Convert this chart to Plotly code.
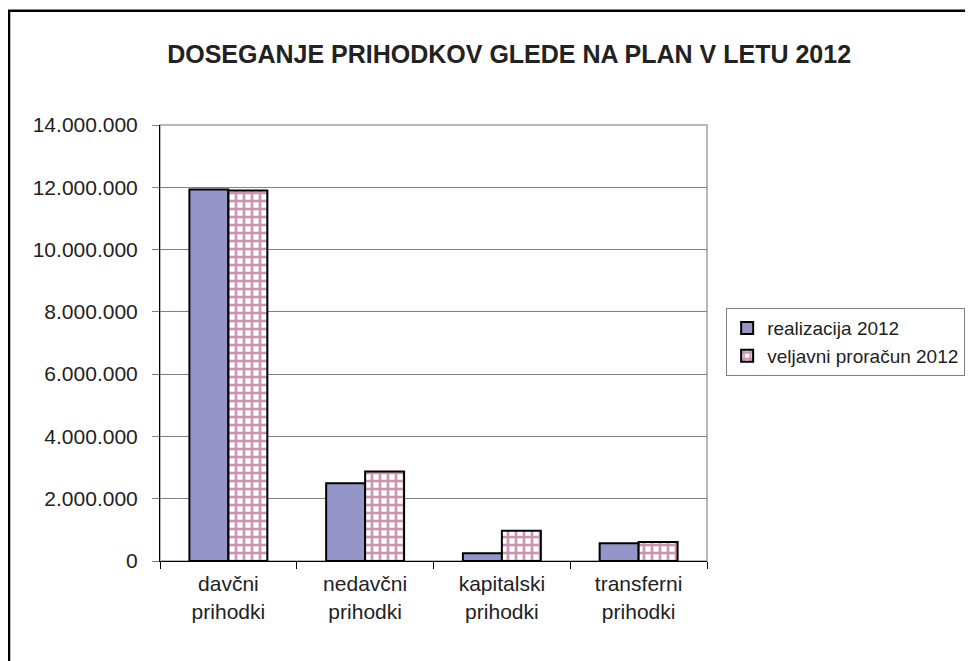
import plotly.graph_objects as go

categories = ["davčni<br>prihodki", "nedavčni<br>prihodki", "kapitalski<br>prihodki", "transferni<br>prihodki"]
realizacija_2012 = [11930000, 2500000, 250000, 570000]
veljavni_proracun_2012 = [11900000, 2870000, 970000, 610000]
y_ticks = [0, 2000000, 4000000, 6000000, 8000000, 10000000, 12000000, 14000000]

fig = go.Figure()
fig.add_trace(go.Bar(
    x=categories, y=realizacija_2012, name="realizacija 2012",
    marker=dict(color="#9595C9", line=dict(color="black", width=2)),
))
fig.add_trace(go.Bar(
    x=categories, y=veljavni_proracun_2012, name="veljavni proračun 2012",
    marker=dict(color="white", line=dict(color="black", width=2),
                pattern=dict(shape="+", fgcolor="#A02866", bgcolor="white", size=8, solidity=0.55)),
))

font = "Liberation Sans, Arial, sans-serif"
fig.update_layout(
    width=973, height=661,
    paper_bgcolor="white", plot_bgcolor="white",
    separators=",.",
    barmode="group", bargap=0.43, bargroupgap=0,
    margin=dict(l=152, r=274, t=117, b=108),
    font=dict(family=font, size=21, color="#222222"),
    title=dict(text="<b>DOSEGANJE PRIHODKOV GLEDE NA PLAN V LETU 2012</b>",
               x=0.515, xanchor="center", y=0.93, yanchor="middle",
               font=dict(family=font, size=25, color="#222222")),
    legend=dict(x=1.035, y=0.58, xanchor="left", yanchor="top",
                bordercolor="#808080", borderwidth=1, bgcolor="white",
                font=dict(family=font, size=19, color="#222222"),
                tracegroupgap=6, itemwidth=30),
    xaxis=dict(showline=True, linecolor="black", linewidth=1,
               ticks="outside", tickson="boundaries", ticklen=7, tickcolor="black",
               showgrid=False, tickfont=dict(size=21), ticklabelstandoff=4),
    yaxis=dict(range=[0, 14000000], tickvals=y_ticks, tickformat=",d",
               showline=True, linecolor="black", linewidth=1,
               ticks="outside", ticklen=7, tickcolor="#808080",
               showgrid=True, gridcolor="#808080", gridwidth=1,
               zeroline=False, tickfont=dict(size=21), ticklabelstandoff=10),
    shapes=[
        dict(type="rect", xref="x domain", yref="y domain", x0=0, x1=1, y0=0, y1=1,
             line=dict(color="#A0A0A0", width=1.5), layer="below"),
        dict(type="rect", xref="paper", yref="paper", x0=-0.276, x1=1.6, y0=-0.3, y1=1.262,
             line=dict(color="black", width=2.5), layer="above"),
    ],
)

fig.write_html("out.html")
